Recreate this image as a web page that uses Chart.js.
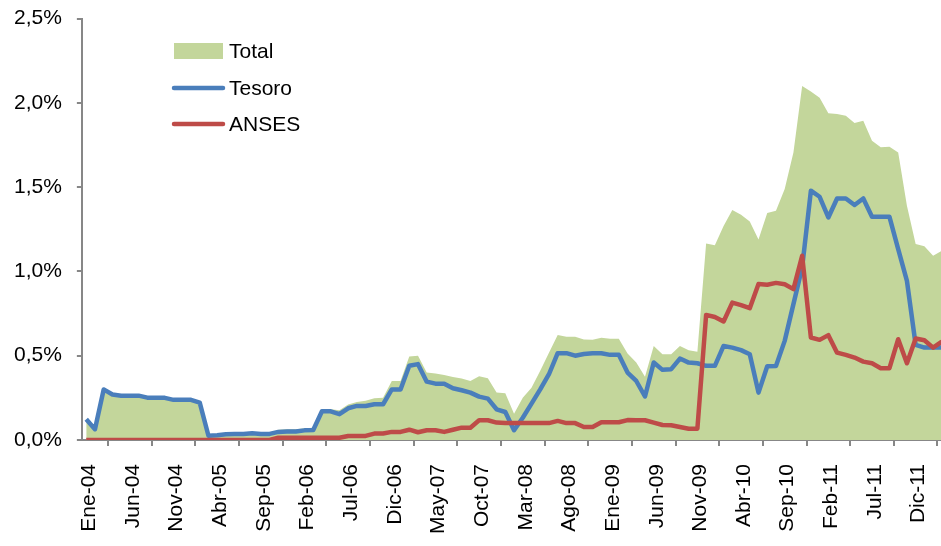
<!DOCTYPE html>
<html>
<head>
<meta charset="utf-8">
<script src="https://cdn.jsdelivr.net/npm/chart.js@4.4.1/dist/chart.umd.min.js"></script>
<style>
  html, body { margin: 0; padding: 0; overflow: hidden; background: #fff; }
  #wrap { position: relative; width: 960px; height: 569px; margin-top: -9px; margin-left: -1px; }
</style>
</head>
<body>
<div id="wrap"><canvas id="c"></canvas></div>
<script>
const categories = [
  "Ene-04","Feb-04","Mar-04","Abr-04","May-04","Jun-04","Jul-04","Ago-04","Sep-04","Oct-04","Nov-04","Dic-04",
  "Ene-05","Feb-05","Mar-05","Abr-05","May-05","Jun-05","Jul-05","Ago-05","Sep-05","Oct-05","Nov-05","Dic-05",
  "Ene-06","Feb-06","Mar-06","Abr-06","May-06","Jun-06","Jul-06","Ago-06","Sep-06","Oct-06","Nov-06","Dic-06",
  "Ene-07","Feb-07","Mar-07","Abr-07","May-07","Jun-07","Jul-07","Ago-07","Sep-07","Oct-07","Nov-07","Dic-07",
  "Ene-08","Feb-08","Mar-08","Abr-08","May-08","Jun-08","Jul-08","Ago-08","Sep-08","Oct-08","Nov-08","Dic-08",
  "Ene-09","Feb-09","Mar-09","Abr-09","May-09","Jun-09","Jul-09","Ago-09","Sep-09","Oct-09","Nov-09","Dic-09",
  "Ene-10","Feb-10","Mar-10","Abr-10","May-10","Jun-10","Jul-10","Ago-10","Sep-10","Oct-10","Nov-10","Dic-10",
  "Ene-11","Feb-11","Mar-11","Abr-11","May-11","Jun-11","Jul-11","Ago-11","Sep-11","Oct-11","Nov-11","Dic-11",
  "Ene-12","Feb-12","Mar-12"
];

const total = [
  0.123,0.064,0.30,0.27,0.263,0.263,0.263,0.251,0.25,0.25,0.238,0.238,
  0.238,0.222,0.025,0.028,0.034,0.036,0.036,0.04,0.036,0.036,0.061,0.063,
  0.063,0.07,0.072,0.183,0.183,0.176,0.21,0.225,0.232,0.248,0.251,0.35,
  0.35,0.495,0.50,0.40,0.394,0.386,0.374,0.364,0.35,0.378,0.366,0.281,
  0.277,0.155,0.251,0.31,0.41,0.518,0.623,0.612,0.612,0.596,0.594,0.607,
  0.60,0.60,0.513,0.459,0.375,0.558,0.509,0.509,0.558,0.533,0.524,1.166,
  1.156,1.27,1.364,1.336,1.296,1.19,1.347,1.36,1.489,1.706,2.10,2.068,
  2.03,1.938,1.934,1.924,1.881,1.894,1.776,1.736,1.74,1.706,1.39,1.162,
  1.15,1.093,1.122
];

const tesoro = [
  0.123,0.064,0.30,0.27,0.263,0.263,0.263,0.251,0.25,0.25,0.238,0.238,
  0.238,0.222,0.025,0.028,0.034,0.036,0.036,0.04,0.036,0.036,0.048,0.05,
  0.05,0.057,0.059,0.17,0.17,0.153,0.188,0.202,0.202,0.212,0.212,0.30,
  0.30,0.44,0.45,0.346,0.334,0.334,0.307,0.295,0.281,0.257,0.245,0.182,
  0.166,0.058,0.132,0.216,0.30,0.39,0.515,0.515,0.50,0.51,0.515,0.515,
  0.505,0.505,0.40,0.35,0.258,0.46,0.416,0.42,0.483,0.459,0.455,0.44,
  0.44,0.558,0.548,0.533,0.509,0.281,0.437,0.439,0.588,0.806,1.023,1.479,
  1.443,1.32,1.433,1.433,1.394,1.433,1.324,1.324,1.324,1.132,0.944,0.564,
  0.548,0.548,0.548
];

const anses = [
  0,0,0,0,0,0,0,0,0,0,0,0,
  0,0,0,0,0,0,0,0,0,0,0.013,0.013,
  0.013,0.013,0.013,0.013,0.013,0.013,0.024,0.024,0.024,0.038,0.038,0.048,
  0.048,0.061,0.046,0.058,0.058,0.048,0.061,0.073,0.073,0.117,0.117,0.103,
  0.10,0.10,0.10,0.10,0.10,0.10,0.113,0.10,0.10,0.077,0.077,0.105,
  0.105,0.105,0.118,0.117,0.117,0.103,0.089,0.087,0.077,0.067,0.067,0.742,
  0.73,0.703,0.815,0.80,0.782,0.925,0.921,0.932,0.924,0.895,1.093,0.608,
  0.594,0.622,0.518,0.505,0.489,0.465,0.455,0.426,0.426,0.598,0.455,0.602,
  0.592,0.548,0.584
];

const yTicks = [0, 0.5, 1.0, 1.5, 2.0, 2.5];
const seriesNames = ["Total", "Tesoro", "ANSES"];

const GREEN = '#c3d69b';
const BLUE = '#4a7ebb';
const RED = '#be4b48';
const AXIS = '#878787';
const FONT = "'Liberation Sans', Arial, sans-serif";

// legend drawn inside the plot, in page coordinates (canvas is shifted by the wrap margins)
const legendPlugin = {
  id: 'customLegend',
  afterDraw(chart) {
    const ctx = chart.ctx;
    ctx.save();
    ctx.translate(1, 9);
    ctx.font = '21px ' + FONT;
    ctx.textBaseline = 'middle';
    ctx.textAlign = 'left';
    const x0 = 174, x1 = 223, tx = 229;
    const ys = [51, 88, 124];
    ctx.fillStyle = GREEN;
    ctx.fillRect(x0, ys[0] - 8, x1 - x0, 16);
    ctx.lineWidth = 4.5;
    ctx.lineCap = 'round';
    ctx.strokeStyle = BLUE;
    ctx.beginPath(); ctx.moveTo(x0, ys[1]); ctx.lineTo(x1, ys[1]); ctx.stroke();
    ctx.strokeStyle = RED;
    ctx.beginPath(); ctx.moveTo(x0, ys[2]); ctx.lineTo(x1, ys[2]); ctx.stroke();
    ctx.fillStyle = '#000';
    seriesNames.forEach((n, i) => ctx.fillText(n, tx, ys[i] + 1));
    ctx.restore();
  }
};

new Chart(document.getElementById('c'), {
  type: 'line',
  data: {
    labels: categories,
    datasets: [
      { label: seriesNames[0], data: total, order: 3, fill: 'origin',
        backgroundColor: GREEN, borderWidth: 0, borderColor: GREEN, pointRadius: 0, tension: 0 },
      { label: seriesNames[1], data: tesoro, order: 2, fill: false,
        borderColor: BLUE, borderWidth: 4.5, pointRadius: 0, tension: 0, borderJoinStyle: 'round' },
      { label: seriesNames[2], data: anses, order: 1, fill: false,
        borderColor: RED, borderWidth: 4.5, pointRadius: 0, tension: 0, borderJoinStyle: 'round' }
    ]
  },
  options: {
    responsive: true,
    maintainAspectRatio: false,
    animation: false,
    layout: { padding: { left: 0, right: 4, top: 9, bottom: 8 } },
    plugins: { legend: { display: false }, tooltip: { enabled: false } },
    scales: {
      x: {
        type: 'category',
        offset: true,
        grid: { offset: true, drawOnChartArea: false, drawTicks: true, tickLength: 6, color: AXIS, lineWidth: 2 },
        border: { display: true, color: AXIS, width: 2 },
        ticks: {
          autoSkip: false, minRotation: 90, maxRotation: 90, padding: 18, labelOffset: 3,
          color: '#000', font: { family: FONT, size: 21 },
          callback: function (v, i) { return i % 5 === 0 ? this.getLabelForValue(v) : null; }
        }
      },
      y: {
        min: yTicks[0], max: yTicks[yTicks.length - 1],
        afterBuildTicks: (s) => { s.ticks = yTicks.map(v => ({ value: v })); },
        grid: { drawOnChartArea: false, drawTicks: true, tickLength: 5, color: AXIS, lineWidth: 2 },
        border: { display: true, color: AXIS, width: 2 },
        ticks: {
          padding: 15, color: '#000', font: { family: FONT, size: 21 },
          callback: (v) => v.toFixed(1).replace('.', ',') + '%'
        }
      }
    }
  },
  plugins: [legendPlugin]
});
</script>
</body>
</html>
